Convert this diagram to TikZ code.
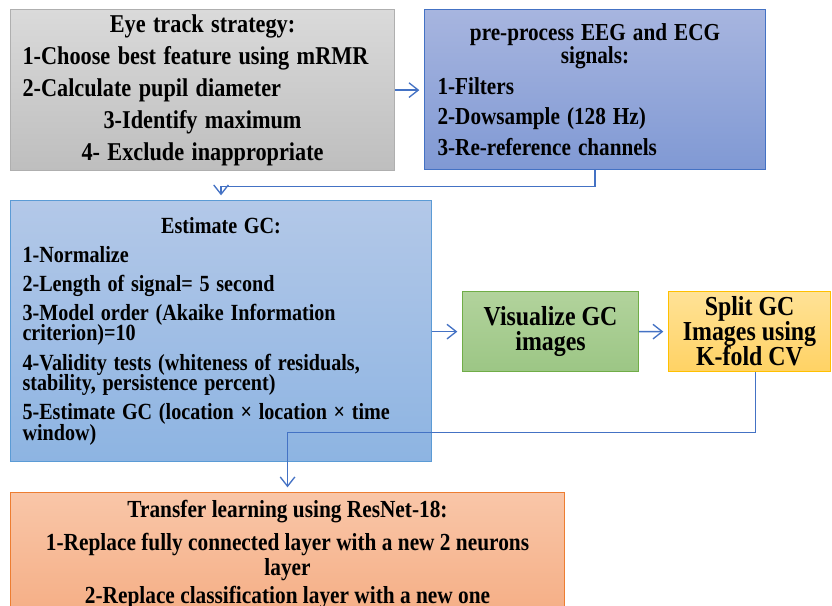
\documentclass[tikz,border=0pt]{standalone}
\usepackage{fontspec}
\setmainfont{Liberation Serif}
\usepackage{xcolor}
\usetikzlibrary{arrows.meta}
\definecolor{gcLine}{HTML}{4472C4}
\definecolor{gcGrayTop}{HTML}{DADADA}
\definecolor{gcGrayBot}{HTML}{BEBEBE}
\definecolor{gcGrayEdge}{HTML}{AFAFAF}
\definecolor{gcPrepTop}{HTML}{A7B5DF}
\definecolor{gcPrepBot}{HTML}{8099D4}
\definecolor{gcPrepEdge}{HTML}{4472C4}
\definecolor{gcEstTop}{HTML}{B3C8E8}
\definecolor{gcEstBot}{HTML}{8DB4E2}
\definecolor{gcEstEdge}{HTML}{5B9BD5}
\definecolor{gcVisTop}{HTML}{B2D39C}
\definecolor{gcVisBot}{HTML}{9CC685}
\definecolor{gcVisEdge}{HTML}{70AD47}
\definecolor{gcSplitTop}{HTML}{FFE296}
\definecolor{gcSplitBot}{HTML}{FFD264}
\definecolor{gcSplitEdge}{HTML}{FFC000}
\definecolor{gcResTop}{HTML}{F9C6A8}
\definecolor{gcResBot}{HTML}{F5AE85}
\definecolor{gcResEdge}{HTML}{ED7D31}
% text in the figure is a bit taller than Times, so the boxes are stretched
\newcommand{\gcfont}[2]{\bfseries\fontsize{#1}{#2}\selectfont\lineskiplimit=-20pt}
\tikzset{
  gcbox/.style={line width=0.8pt, anchor=north west, align=left,
                inner ysep=0pt, inner xsep=9pt, yscale=1.15, transform shape},
  gcsmall/.style={gcbox, align=center, inner xsep=2pt, font=\gcfont{17.9}{16.3}},
  gcflow/.style={draw=gcLine, line width=1pt,
                 -{Straight Barb[length=7pt,width=11pt]}, shorten >=3.5pt},
}

\begin{document}
\begin{tikzpicture}[x=0.75pt, y=-0.75pt]
\path[use as bounding box, clip] (0,0) rectangle (832,606);
\node[gcbox, draw=gcGrayEdge, top color=gcGrayTop, bottom color=gcGrayBot,
      minimum width=288pt, minimum height=105pt, text width=270pt,
      font=\gcfont{16.7}{20.87}] (eye) at (10,9)
  {\makebox[\linewidth]{Eye track strategy:}\\
   1-Choose best feature using mRMR\\
   2-Calculate pupil diameter\\
   \makebox[\linewidth]{3-Identify maximum}\\
   \makebox[\linewidth]{4- Exclude inappropriate}};
\node[gcbox, draw=gcPrepEdge, top color=gcPrepTop, bottom color=gcPrepBot,
      minimum width=255.75pt, minimum height=104.35pt, text width=236.25pt, inner xsep=9.75pt,
      font=\gcfont{15.9}{15}] (prep) at (424,9)
  {\makebox[\linewidth]{pre-process EEG and ECG}\\
   \makebox[\linewidth]{signals:}\\[4.9pt]
   1-Filters\\[4.9pt]
   2-Dowsample (128 Hz)\\[4.9pt]
   3-Re-reference channels};
\node[gcbox, draw=gcEstEdge, top color=gcEstTop, bottom color=gcEstBot,
      minimum width=315.75pt, minimum height=170.2pt, text width=297.75pt,
      font=\gcfont{15.1}{13.4}] (est) at (10,200)
  {\makebox[\linewidth]{Estimate GC:}\\[5.6pt]
   1-Normalize\\[5.6pt]
   2-Length of signal= 5 second\\[5.6pt]
   3-Model order (Akaike Information\\ criterion)=10\\[5.6pt]
   4-Validity tests (whiteness of residuals,\\ stability, persistence percent)\\[5.6pt]
   5-Estimate GC (location × location × time\\ window)};
\node[gcsmall, draw=gcVisEdge, top color=gcVisTop, bottom color=gcVisBot,
      minimum width=132pt, minimum height=52.2pt] (vis) at (462,291)
  {Visualize GC\\ images};
\node[gcsmall, draw=gcSplitEdge, top color=gcSplitTop, bottom color=gcSplitBot,
      minimum width=121.5pt, minimum height=52.2pt] (split) at (668,291)
  {Split GC\\ Images using\\ K-fold CV};
\node[gcbox, align=center, draw=gcResEdge, top color=gcResTop, bottom color=gcResBot,
      minimum width=415.5pt, minimum height=80.9pt,
      font=\gcfont{16}{16.3}] (res) at (10,492)
  {Transfer learning using ResNet-18:\\[5.2pt]
   1-Replace fully connected layer with a new 2 neurons\\ layer\\[2pt]
   2-Replace classification layer with a new one};

\draw[gcflow] (eye.east) -- (eye.east -| prep.west);
\draw[gcflow] (prep.south) -- ++(0,16) -| (est.north);
\draw[gcflow] (vis.west -| est.east) -- (vis.west);
\draw[gcflow] (vis) -- (split);
\draw[gcflow] ([xshift=4.5pt]split.south) -- ++(0,60) -| (res.north);
\end{tikzpicture}
\end{document}
